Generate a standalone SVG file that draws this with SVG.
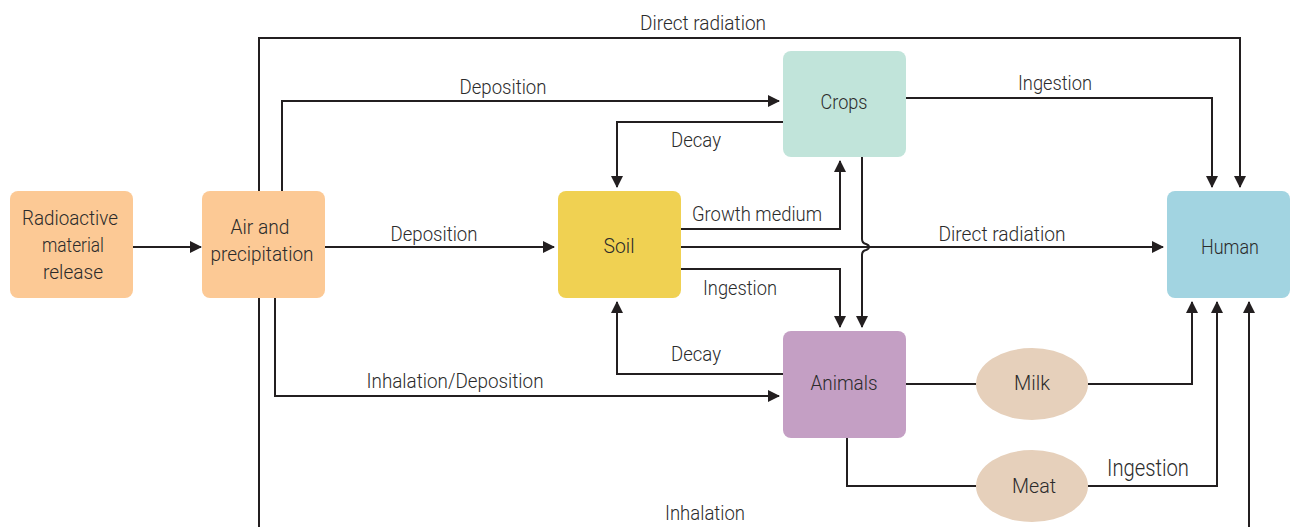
<svg xmlns="http://www.w3.org/2000/svg" width="1296" height="527" viewBox="0 0 1296 527">
  <style>
    .lbl { font-family: Roboto, "Liberation Sans", sans-serif; font-size: 21px; font-weight: 300; fill: #2b2b2b; text-anchor: middle; dominant-baseline: central; }
    .wire { fill: none; stroke: #231F20; stroke-width: 2; }
    .arr { marker-end: url(#tip); }
  </style>
  <defs>
    <marker id="tip" viewBox="0 0 12 12" refX="11" refY="6" markerWidth="12" markerHeight="12" markerUnits="userSpaceOnUse" orient="auto">
      <path d="M0,0 L12,6 L0,12 Z" fill="#231F20"/>
    </marker>
  </defs>
  <rect width="1296" height="527" fill="#fff"/>

  <!-- connectors -->
  <g id="connectors">
    <!-- direct radiation over the top -->
    <path class="wire arr" d="M259,527 V38 H1240 V187"/>
    <!-- inhalation from below -->
    <path class="wire arr" d="M1249,527 V302"/>
    <!-- release to air -->
    <path class="wire arr" d="M133,247 H201"/>
    <!-- air to soil -->
    <path class="wire arr" d="M325,247 H554"/>
    <!-- air to crops -->
    <path class="wire arr" d="M282,191 V101 H779"/>
    <!-- air to animals -->
    <path class="wire arr" d="M275,298 V396 H779"/>
    <!-- crops decay to soil -->
    <path class="wire arr" d="M783,122 H617 V187"/>
    <!-- soil growth medium to crops -->
    <path class="wire arr" d="M681,229 H840 V161"/>
    <!-- soil direct radiation to human -->
    <path class="wire arr" d="M681,247 H1163"/>
    <!-- soil ingestion to animals -->
    <path class="wire arr" d="M681,269 H840 V327"/>
    <!-- crops to animals, hopping over the radiation line -->
    <path class="wire arr" d="M862,157 V239 q0,4 4,5 q3,1 3,3 q0,2 -3,3 q-4,1 -4,5 V327"/>
    <!-- animals decay to soil -->
    <path class="wire arr" d="M783,374 H617 V302"/>
    <!-- crops ingestion to human -->
    <path class="wire arr" d="M906,98 H1212 V187"/>
    <!-- animals to milk, milk to human -->
    <path class="wire" d="M906,384 H976"/>
    <path class="wire arr" d="M1088,384 H1192 V302"/>
    <!-- animals to meat, meat to human -->
    <path class="wire" d="M847,438 V486 H976"/>
    <path class="wire arr" d="M1088,486 H1217 V302"/>
  </g>

  <!-- connector labels -->
  <g id="labels">
    <text class="lbl" x="703" y="23" textLength="126" lengthAdjust="spacingAndGlyphs">Direct radiation</text>
    <text class="lbl" x="503" y="87" textLength="87" lengthAdjust="spacingAndGlyphs">Deposition</text>
    <text class="lbl" x="434" y="234" textLength="87" lengthAdjust="spacingAndGlyphs">Deposition</text>
    <text class="lbl" x="696" y="140" textLength="50" lengthAdjust="spacingAndGlyphs">Decay</text>
    <text class="lbl" x="1055" y="83" textLength="74" lengthAdjust="spacingAndGlyphs">Ingestion</text>
    <text class="lbl" x="757" y="214" textLength="130" lengthAdjust="spacingAndGlyphs">Growth medium</text>
    <text class="lbl" x="1002" y="234" textLength="127" lengthAdjust="spacingAndGlyphs">Direct radiation</text>
    <text class="lbl" x="740" y="288" textLength="74" lengthAdjust="spacingAndGlyphs">Ingestion</text>
    <text class="lbl" x="696" y="354" textLength="50" lengthAdjust="spacingAndGlyphs">Decay</text>
    <text class="lbl" x="455" y="381" textLength="177" lengthAdjust="spacingAndGlyphs">Inhalation/Deposition</text>
    <text class="lbl" x="1148" y="468" style="font-size:23px" textLength="82" lengthAdjust="spacingAndGlyphs">Ingestion</text>
    <text class="lbl" x="705" y="513" textLength="80" lengthAdjust="spacingAndGlyphs">Inhalation</text>
  </g>

  <g id="release">
    <rect x="10" y="191" width="123" height="107" rx="8" fill="#FCC995"/>
    <text class="lbl" x="70" y="218" textLength="96" lengthAdjust="spacingAndGlyphs">Radioactive</text>
    <text class="lbl" x="73" y="245" textLength="62" lengthAdjust="spacingAndGlyphs">material</text>
    <text class="lbl" x="73" y="272" textLength="60" lengthAdjust="spacingAndGlyphs">release</text>
  </g>

  <g id="air">
    <rect x="202" y="191" width="123" height="107" rx="8" fill="#FCC995"/>
    <text class="lbl" x="260" y="227" textLength="59" lengthAdjust="spacingAndGlyphs">Air and</text>
    <text class="lbl" x="262" y="254" textLength="103" lengthAdjust="spacingAndGlyphs">precipitation</text>
  </g>

  <g id="soil">
    <rect x="558" y="191" width="123" height="107" rx="8" fill="#F0D152"/>
    <text class="lbl" x="619" y="246" textLength="31" lengthAdjust="spacingAndGlyphs">Soil</text>
  </g>

  <g id="crops">
    <rect x="783" y="51" width="123" height="106" rx="8" fill="#C1E4DA"/>
    <text class="lbl" x="844" y="102" textLength="47" lengthAdjust="spacingAndGlyphs">Crops</text>
  </g>

  <g id="animals">
    <rect x="783" y="331" width="123" height="107" rx="8" fill="#C49FC4"/>
    <text class="lbl" x="844" y="383" textLength="67" lengthAdjust="spacingAndGlyphs">Animals</text>
  </g>

  <g id="human">
    <rect x="1167" y="191" width="123" height="107" rx="8" fill="#A2D4E1"/>
    <text class="lbl" x="1230" y="247" textLength="58" lengthAdjust="spacingAndGlyphs">Human</text>
  </g>

  <g id="milk">
    <ellipse cx="1032" cy="384" rx="56" ry="36" fill="#E6D0BB"/>
    <text class="lbl" x="1032" y="383" textLength="36" lengthAdjust="spacingAndGlyphs">Milk</text>
  </g>

  <g id="meat">
    <ellipse cx="1032" cy="486" rx="56" ry="36" fill="#E6D0BB"/>
    <text class="lbl" x="1034" y="486" textLength="44" lengthAdjust="spacingAndGlyphs">Meat</text>
  </g>
</svg>
